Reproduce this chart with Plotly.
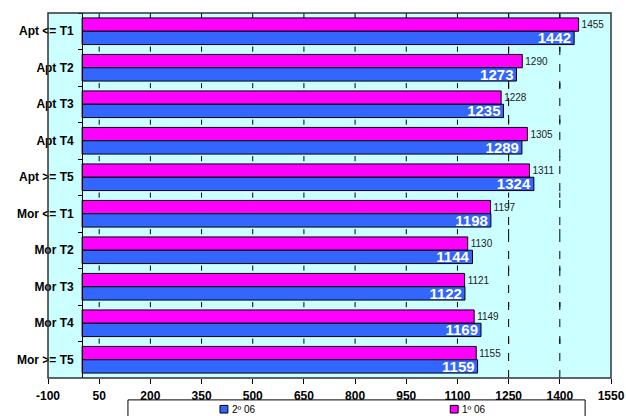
import plotly.graph_objects as go

# Dwelling types (top to bottom)
categories = ["Apt <= T1", "Apt T2", "Apt T3", "Apt T4", "Apt >= T5",
              "Mor <= T1", "Mor T2", "Mor T3", "Mor T4", "Mor >= T5"]

# Values per half-year
first_half = [1455, 1290, 1228, 1305, 1311, 1197, 1130, 1121, 1149, 1155]   # 1º 06
second_half = [1442, 1273, 1235, 1289, 1324, 1198, 1144, 1122, 1169, 1159]  # 2º 06

series_names = ["1º 06", "2º 06"]
reference_lines = [1250, 1400]
x_ticks = list(range(-100, 1551, 150))

FONT = "Liberation Sans, Arial, sans-serif"
MAGENTA = "#FF00FF"
BLUE = "#3366FF"
BG = "#CCFFFF"
X_MIN, X_MAX = -100, 1550
n_cat = len(categories)

fig = go.Figure()

fig.add_trace(go.Bar(
    y=categories, x=first_half, orientation="h", name=series_names[0],
    marker=dict(color=MAGENTA, line=dict(color="#000000", width=1)),
    text=[str(v) for v in first_half], textposition="outside",
    textfont=dict(family=FONT, size=10, color="#222222"),
    constraintext="none", cliponaxis=False,
))
fig.add_trace(go.Bar(
    y=categories, x=second_half, orientation="h", name=series_names[1],
    marker=dict(color=BLUE, line=dict(color="#000000", width=1)),
    text=[str(v) for v in second_half], textposition="inside",
    insidetextanchor="end",
    textfont=dict(family=FONT, size=15, color="#FFFFFF", weight="bold"),
    constraintext="none",
))

shapes = []
# dashed reference lines behind the bars
for v in reference_lines:
    shapes.append(dict(type="line", xref="x", yref="paper", x0=v, x1=v, y0=0, y1=1,
                       layer="below", line=dict(color="#000000", width=1, dash="8px,9px")))
# small value-axis tick marks repeated at the top edge and each category boundary
for b in range(-1, n_cat - 1):
    yb = b + 0.5
    for t in x_ticks[1:-1]:
        shapes.append(dict(type="line", xref="x", yref="y", x0=t, x1=t,
                           y0=max(yb - 0.08, -0.5), y1=yb + 0.06 if b >= 0 else yb + 0.14,
                           line=dict(color="#000000", width=1)))
# plot frame
shapes.append(dict(type="rect", xref="paper", yref="paper", x0=0, x1=1, y0=0, y1=1,
                   line=dict(color="#333333", width=1.5), fillcolor="rgba(0,0,0,0)"))

# legend box and entries
shapes.append(dict(type="rect", xref="paper", yref="paper",
                   x0=0.142, x1=0.954, y0=-0.16, y1=-0.060,
                   line=dict(color="#000000", width=1), fillcolor="#FFFFFF"))
legend_items = [(series_names[1], BLUE, 0.313), (series_names[0], MAGENTA, 0.722)]
annotations = []
for name, color, px in legend_items:
    shapes.append(dict(type="rect", xref="paper", yref="paper",
                       x0=px - 0.0075, x1=px + 0.0065, y0=-0.096, y1=-0.075,
                       line=dict(color="#000000", width=1), fillcolor=color))
    annotations.append(dict(xref="paper", yref="paper", x=px + 0.010, y=-0.0855,
                            text=name, showarrow=False, xanchor="left", yanchor="middle",
                            font=dict(family=FONT, size=10, color="#000000")))

fig.update_layout(
    width=626, height=416,
    margin=dict(l=48, r=15, t=13, b=38, autoexpand=False),
    paper_bgcolor="#FFFFFF", plot_bgcolor=BG,
    barmode="group", bargap=0.27, bargroupgap=0,
    showlegend=False,
    shapes=shapes, annotations=annotations,
    font=dict(family=FONT, color="#000000"),
)

fig.update_xaxes(
    range=[X_MIN, X_MAX], tickmode="array", tickvals=x_ticks,
    ticktext=[str(t) for t in x_ticks],
    ticks="outside", ticklen=5, tickcolor="#000000",
    ticklabelstandoff=2, automargin=False,
    showline=False, showgrid=False, zeroline=False,
    tickfont=dict(family=FONT, size=12, color="#000000", weight="bold"),
)
fig.update_yaxes(
    categoryorder="array", categoryarray=categories,
    range=[n_cat - 0.5, -0.5], autorange=False,
    anchor="free", position=(0 - X_MIN) / (X_MAX - X_MIN),
    showline=True, linecolor="#000000", linewidth=1,
    ticks="outside", ticklen=4, tickcolor="#000000", tickson="boundaries",
    ticklabelstandoff=6, automargin=False,
    showgrid=False, zeroline=False,
    tickfont=dict(family=FONT, size=12, color="#000000", weight="bold"),
)

fig.write_html("out.html")
